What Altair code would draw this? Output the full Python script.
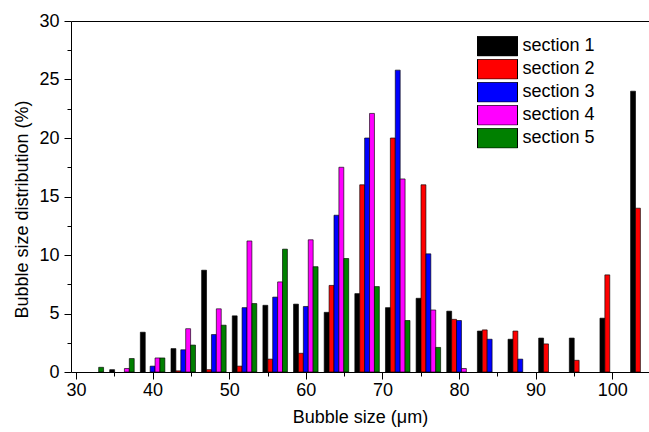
import altair as alt
import pandas as pd

bins = [32, 36, 40, 44, 48, 52, 56, 60, 64, 68, 72, 76, 80, 84, 88, 92, 96, 100, 104]
sections = ["section 1", "section 2", "section 3", "section 4", "section 5"]
colors = ["#000000", "#FF0000", "#0000FF", "#FF00FF", "#008000"]

s1 = [0, 0.2, 3.4, 2.0, 8.7, 4.8, 5.7, 5.8, 5.1, 6.7, 5.5, 6.3, 5.2, 3.5, 2.8, 2.9, 2.9, 4.6, 24.0]
s2 = [0, 0, 0, 0.1, 0.2, 0.5, 1.1, 1.6, 7.4, 16.0, 20.0, 16.0, 4.5, 3.6, 3.5, 2.4, 1.0, 8.3, 14.0]
s3 = [0, 0, 0.5, 1.9, 3.2, 5.5, 6.4, 5.6, 13.4, 20.0, 25.8, 10.1, 4.4, 2.8, 1.1, 0, 0, 0, 0]
s4 = [0, 0.3, 1.2, 3.7, 5.4, 11.2, 7.7, 11.3, 17.5, 22.1, 16.5, 5.3, 0.3, 0, 0, 0, 0, 0, 0]
s5 = [0.4, 1.15, 1.2, 2.3, 4.0, 5.85, 10.5, 9.0, 9.7, 7.3, 4.4, 2.1, 0, 0, 0, 0, 0, 0, 0]

x_major = [30, 40, 50, 60, 70, 80, 90, 100]
x_minor = [35, 45, 55, 65, 75, 85, 95, 105]
y_major = [0, 5, 10, 15, 20, 25, 30]
y_minor = [2.5, 7.5, 12.5, 17.5, 22.5, 27.5]

rows = []
for idx, (name, vals) in enumerate(zip(sections, [s1, s2, s3, s4, s5])):
    for b, v in zip(bins, vals):
        if v > 0:
            rows.append({"bin": b, "section": name, "idx": idx, "value": v})
df = pd.DataFrame(rows)

FONT = "Liberation Sans"
FS = 18
xscale = alt.Scale(domain=[30, 104.15], nice=False, zero=False)
yscale = alt.Scale(domain=[0, 30], nice=False, zero=True)

bars = alt.Chart(df).transform_calculate(
    x0="datum.bin + (datum.idx - 2) * 0.64 - 0.32",
    x1="datum.bin + (datum.idx - 2) * 0.64 + 0.32",
).mark_bar(stroke="#000000", strokeWidth=0.8, strokeOpacity=0.8, clip=True,
           orient="vertical").encode(
    x=alt.X("x0:Q", scale=xscale, axis=alt.Axis(
        orient="bottom", values=x_major, title="Bubble size (μm)", grid=False,
        tickSize=7, tickColor="#000000", domainColor="#000000", labelColor="#000000",
        labelFont=FONT, labelFontSize=FS, labelPadding=2,
        titleFont=FONT, titleFontSize=FS, titleFontWeight="normal", titleColor="#000000",
        titlePadding=9)),
    x2="x1:Q",
    y=alt.Y("value:Q", scale=yscale, axis=alt.Axis(
        orient="left", values=y_major, title="Bubble size distribution (%)", grid=False,
        tickSize=7, tickColor="#000000", domainColor="#000000", labelColor="#000000",
        labelFont=FONT, labelFontSize=FS, labelPadding=5,
        titleFont=FONT, titleFontSize=FS, titleFontWeight="normal", titleColor="#000000",
        titlePadding=7, titleY=188)),
    y2=alt.datum(0),
    color=alt.Color("section:N", scale=alt.Scale(domain=sections, range=colors),
                    legend=alt.Legend(
                        title=None, orient="none", legendX=406, legendY=15,
                        symbolType="M-2,-1H2V1H-2Z", symbolSize=400,
                        symbolStrokeColor="#000000", symbolStrokeWidth=1,
                        symbolOffset=10,
                        labelFont=FONT, labelFontSize=FS, labelColor="#000000",
                        labelOffset=14.5, rowPadding=2, clipHeight=20.3)),
)

minor = alt.Chart(df).mark_point(opacity=0).encode(
    x=alt.X("bin:Q", scale=xscale, axis=alt.Axis(
        orient="bottom", values=x_minor, labels=False, title=None, grid=False,
        domain=False, tickSize=4, tickColor="#000000")),
    y=alt.Y("value:Q", scale=yscale, axis=alt.Axis(
        orient="left", values=y_minor, labels=False, title=None, grid=False,
        domain=False, tickSize=4, tickColor="#000000")),
)

top = alt.Chart(df).mark_point(opacity=0).encode(
    x=alt.X("bin:Q", scale=xscale, axis=alt.Axis(
        orient="top", labels=False, ticks=False, title=None, grid=False,
        domainColor="#000000")),
    y=alt.Y("value:Q", scale=yscale, axis=None),
)

chart = alt.layer(bars, minor, top).resolve_axis(
    x="independent", y="independent"
).properties(
    width=578, height=351,
    autosize=alt.AutoSizeParams(type="none"),
    padding={"left": 71, "top": 21, "right": 0, "bottom": 60},
).configure_view(stroke=None)

chart.save("out.html", embed_options={"renderer": "svg", "actions": False})
